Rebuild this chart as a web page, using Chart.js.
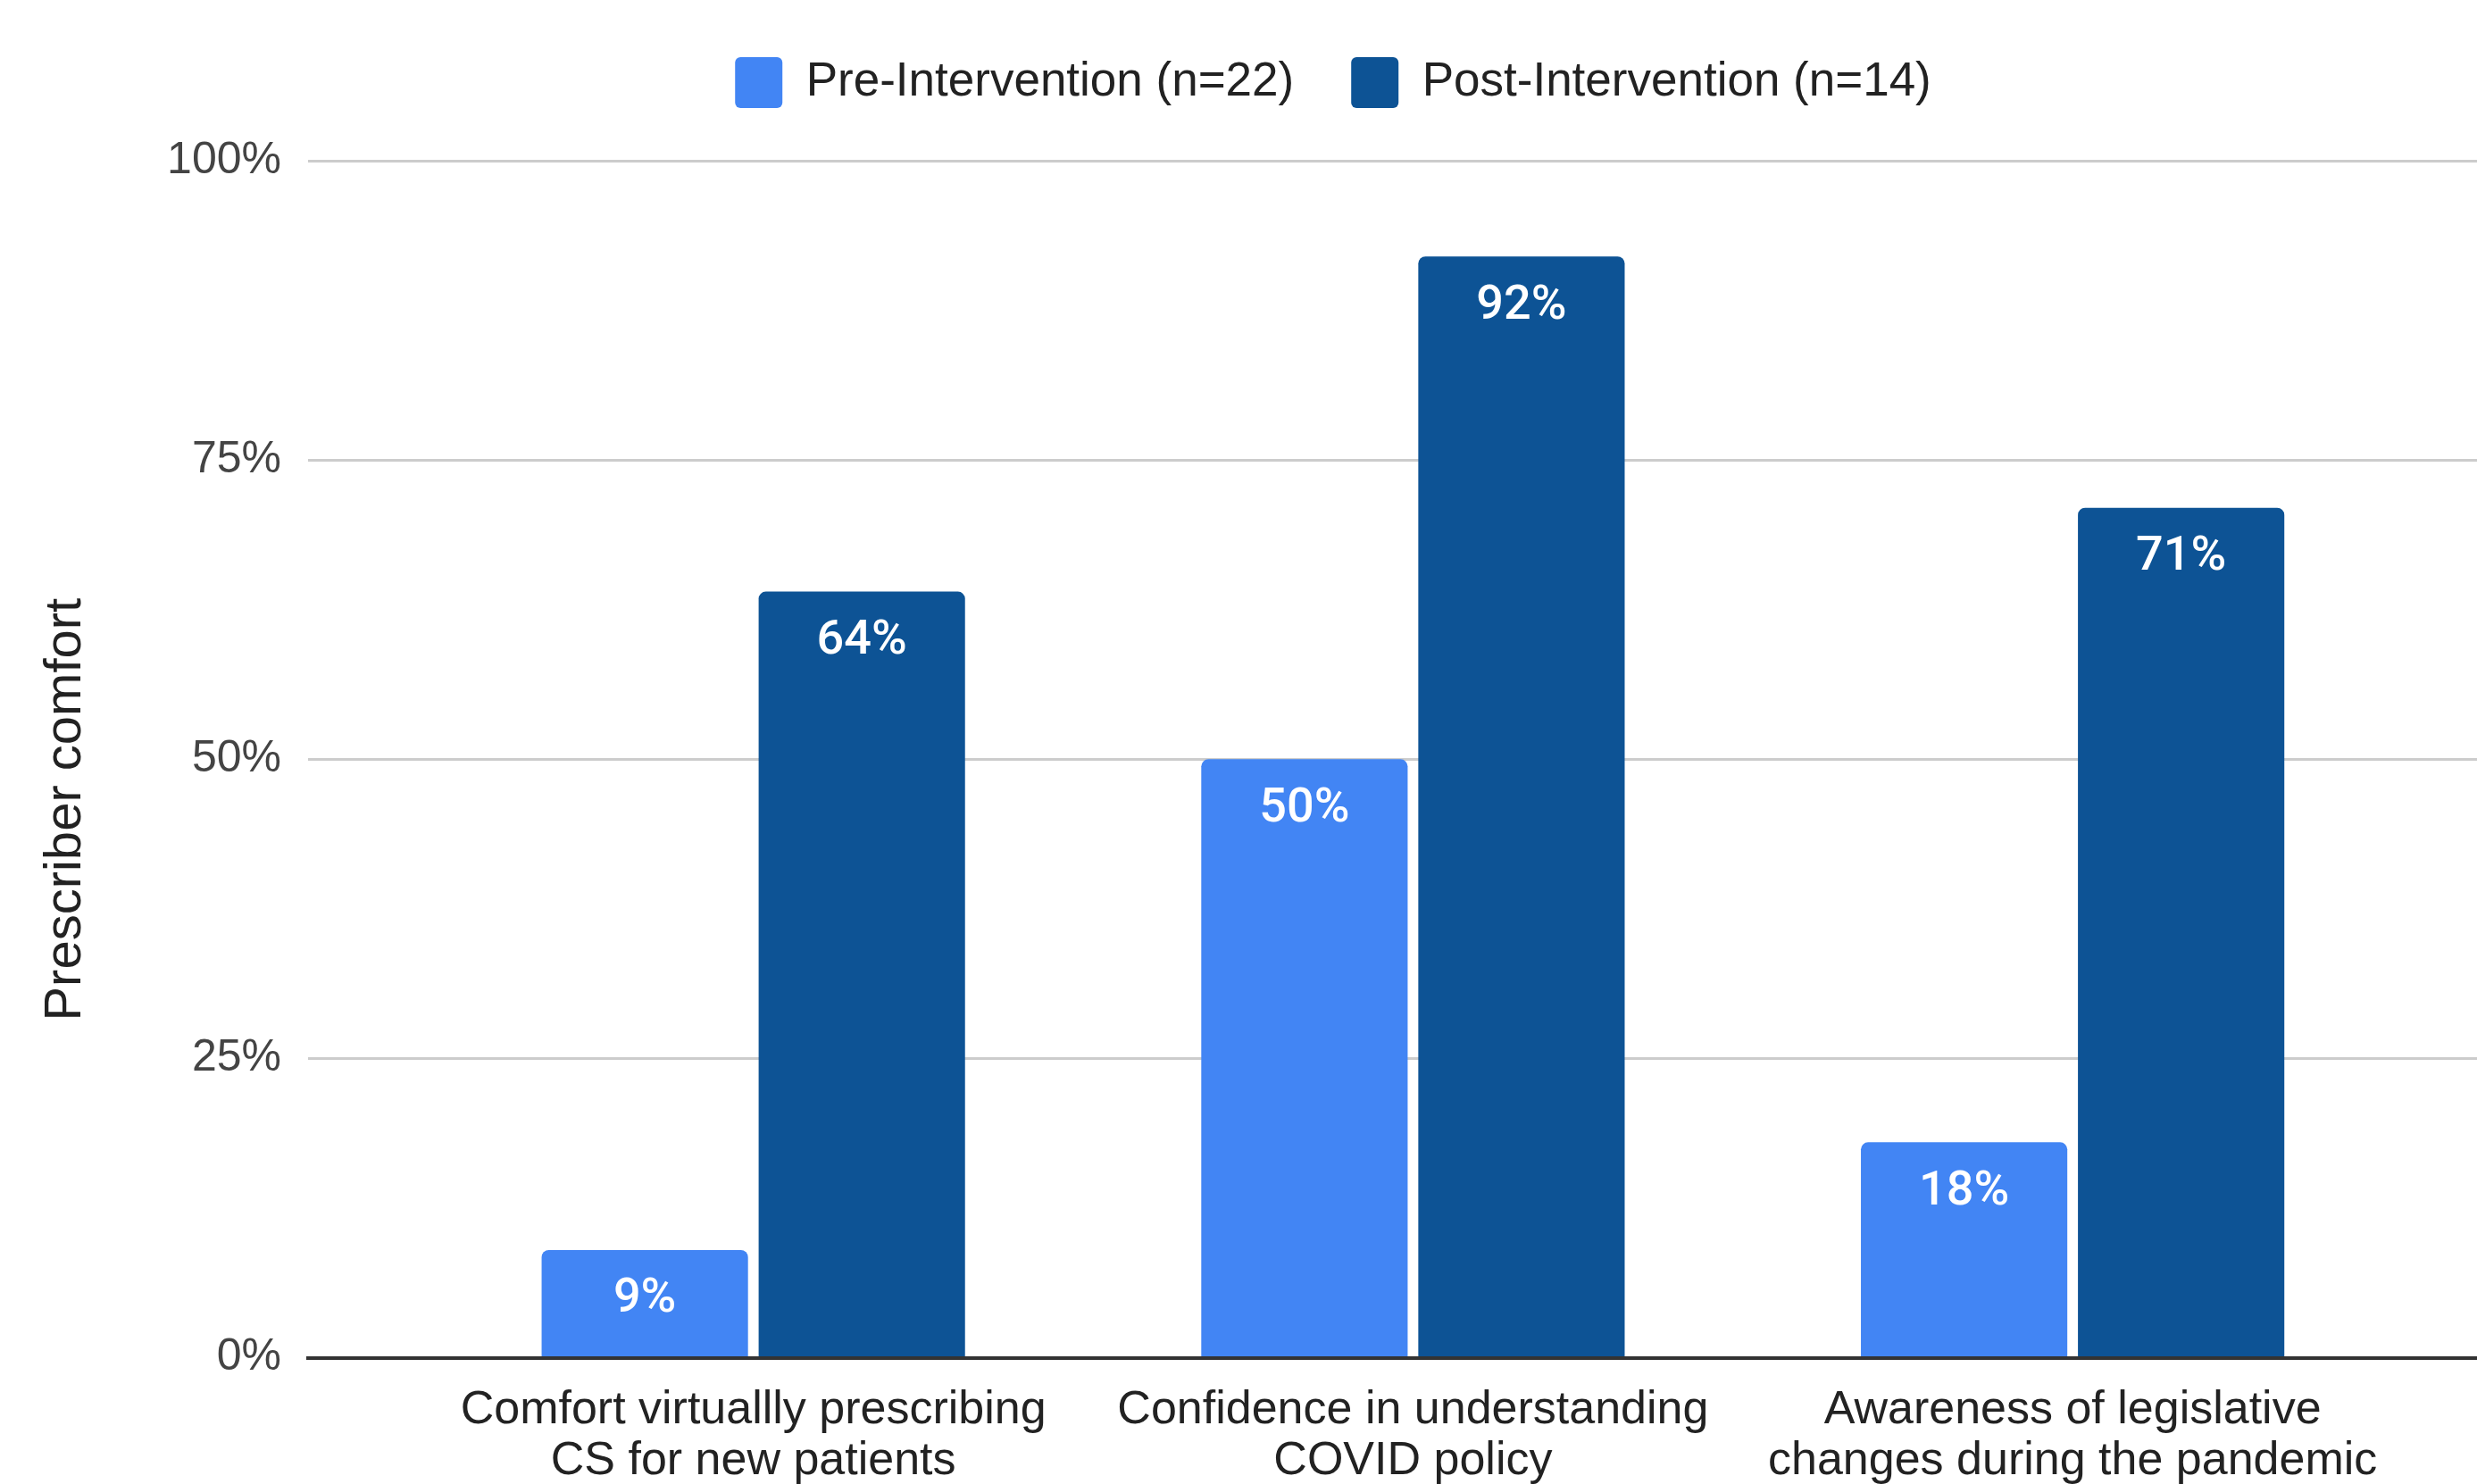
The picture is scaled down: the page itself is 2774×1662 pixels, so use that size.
<!DOCTYPE html>
<html>
<head>
<meta charset="utf-8">
<script src="https://cdn.jsdelivr.net/npm/chart.js@4.4.1/dist/chart.umd.min.js"></script>
<style>
  html, body { margin: 0; padding: 0; background: #fff; overflow: hidden; }
  #wrap { position: absolute; left: 0; top: 0; }
</style>
</head>
<body>
<div id="wrap"><canvas id="chart" width="2986" height="1695"></canvas></div>
<script>
// chart data
const categories = [
    ['Comfort virtuallly prescribing', 'CS for new patients'],
    ['Confidence in understanding', 'COVID policy'],
    ['Awareness of legislative', 'changes during the pandemic']
];
const seriesNames = ['Pre-Intervention (n=22)', 'Post-Intervention (n=14)'];
const preValues = [9, 50, 18];
const postValues = [64, 92, 71];
const yTicks = [0, 25, 50, 75, 100];

const colors = ['#4285F4', '#0D5395'];
const baseFont = "'Liberation Sans', Arial, sans-serif";

// positions of the categories along the x axis
const catIndex = categories.map((c, i) => i);

function toPoints(values) {
    return values.map((v, i) => ({ x: catIndex[i], y: v }));
}

// white value labels inside the top of each bar
const barLabels = {
    id: 'barLabels',
    afterDatasetsDraw(chart) {
        const ctx = chart.ctx;
        ctx.save();
        ctx.fillStyle = '#ffffff';
        ctx.font = "500 54px Roboto, 'Noto Sans', sans-serif";
        ctx.textAlign = 'center';
        ctx.textBaseline = 'middle';
        chart.data.datasets.forEach((ds, di) => {
            const meta = chart.getDatasetMeta(di);
            meta.data.forEach((bar, i) => {
                ctx.fillText(ds.data[i].y + '%', bar.x, bar.y + 56);
            });
        });
        ctx.restore();
    }
};

// extra room between the legend and the plot
const legendGap = {
    id: 'legendGap',
    beforeInit(chart) {
        const fit = chart.legend.fit;
        chart.legend.fit = function() {
            fit.call(this);
            this.height += 49;
        };
    }
};

const ctx = document.getElementById('chart').getContext('2d');
const chart = new Chart(ctx, {
    type: 'bar',
    data: {
        datasets: [
            {
                label: seriesNames[0],
                data: toPoints(preValues),
                backgroundColor: colors[0],
                borderRadius: 8,
                borderSkipped: 'start'
            },
            {
                label: seriesNames[1],
                data: toPoints(postValues),
                backgroundColor: colors[1],
                borderRadius: 8,
                borderSkipped: 'start'
            }
        ]
    },
    options: {
        responsive: false,
        animation: false,
        devicePixelRatio: 1,
        categoryPercentage: 0.658,
        barPercentage: 0.951,
        layout: { padding: 0 },
        plugins: {
            tooltip: { enabled: false },
            legend: {
                position: 'top',
                labels: {
                    boxWidth: 53,
                    boxHeight: 57,
                    useBorderRadius: true,
                    borderRadius: 6,
                    padding: 64,
                    color: '#222',
                    font: { family: baseFont, size: 53 }
                }
            }
        },
        scales: {
            x: {
                type: 'linear',
                offset: false,
                min: -0.675,
                max: 2.9,
                afterBuildTicks(scale) {
                    scale.ticks = catIndex.map(v => ({ value: v }));
                },
                grid: { display: false, drawTicks: false, offset: false },
                border: { display: true, color: '#333', width: 4 },
                ticks: {
                    autoSkip: false,
                    maxRotation: 0,
                    padding: 30,
                    color: '#222',
                    font: { family: baseFont, size: 52, lineHeight: 1.1 },
                    callback: (value) => categories[value]
                }
            },
            y: {
                min: 0,
                max: 100,
                afterBuildTicks(scale) {
                    scale.ticks = yTicks.map(v => ({ value: v }));
                },
                afterFit(scale) {
                    scale.width = 345;
                },
                grid: { color: '#cccccc', lineWidth: 3, drawTicks: false },
                border: { display: false },
                ticks: {
                    padding: 30,
                    color: '#444',
                    font: { family: baseFont, size: 50 },
                    callback: (value) => value + '%'
                },
                title: {
                    display: true,
                    // trailing spaces push the centred title a little lower, as in the original
                    text: 'Prescriber comfort       ',
                    color: '#222',
                    padding: { top: 39, bottom: 0 },
                    font: { family: baseFont, size: 58 }
                }
            }
        }
    },
    plugins: [barLabels, legendGap]
});
</script>
</body>
</html>
